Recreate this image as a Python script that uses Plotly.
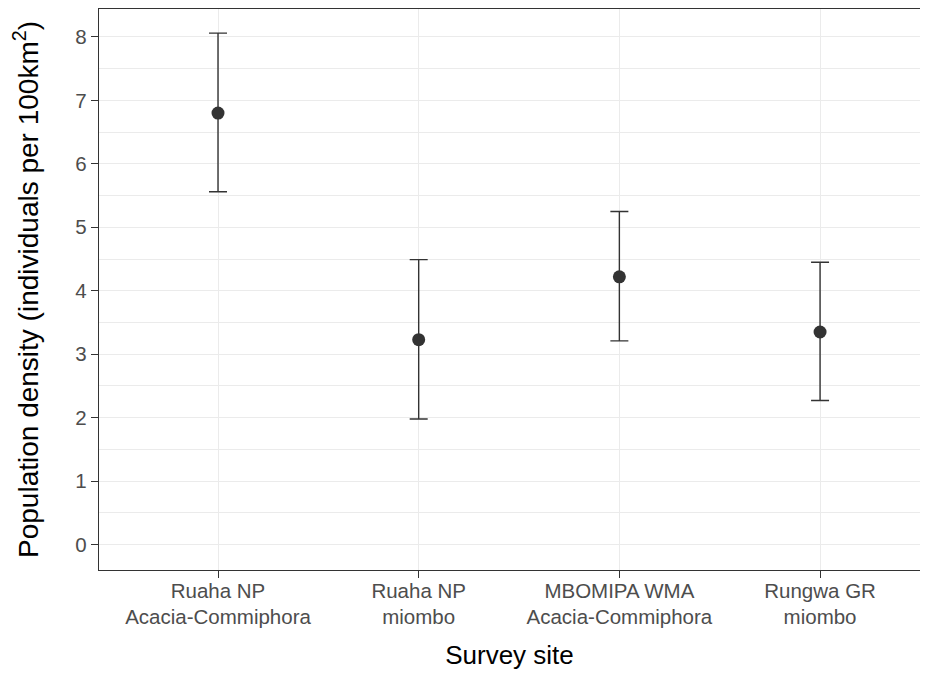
import plotly.graph_objects as go

sites = ["Ruaha NP<br>Acacia-Commiphora", "Ruaha NP<br>miombo",
         "MBOMIPA WMA<br>Acacia-Commiphora", "Rungwa GR<br>miombo"]
density = [6.80, 3.23, 4.22, 3.35]
upper = [8.06, 4.49, 5.25, 4.45]
lower = [5.56, 1.98, 3.21, 2.27]
y_ticks = [0, 1, 2, 3, 4, 5, 6, 7, 8]

err_plus = [u - d for u, d in zip(upper, density)]
err_minus = [d - l for d, l in zip(density, lower)]

fig = go.Figure(go.Scatter(
    x=sites, y=density, mode="markers",
    marker=dict(size=13, color="#333333"),
    error_y=dict(type="data", symmetric=False, array=err_plus, arrayminus=err_minus,
                 color="#333333", thickness=1.4, width=9),
    showlegend=False,
))

fig.update_layout(
    width=912, height=662,
    margin=dict(l=91, r=0, t=1, b=100, autoexpand=False),
    paper_bgcolor="white", plot_bgcolor="white",
    font=dict(family="Liberation Sans, Arial, sans-serif", color="#4D4D4D"),
)
fig.update_xaxes(
    type="category", range=[-0.593, 3.498], automargin=False,
    showline=True, linecolor="#333333", linewidth=1.3, mirror=True,
    ticks="outside", ticklen=7, tickwidth=1.3, tickcolor="#333333",
    ticklabelstandoff=-5,
    showgrid=True, gridcolor="#EBEBEB", gridwidth=1.1,
    tickfont=dict(size=20.5, color="#4D4D4D"),
    title=dict(text="Survey site", font=dict(size=26, color="black"), standoff=30),
)
fig.update_yaxes(
    range=[-0.4, 8.44], tickvals=y_ticks, automargin=False,
    showline=True, linecolor="#333333", linewidth=1.3,
    ticks="outside", ticklen=7, tickwidth=1.3, tickcolor="#333333",
    showgrid=True, gridcolor="#EBEBEB", gridwidth=1.1, zeroline=False,
    minor=dict(dtick=0.5, tick0=0, showgrid=True, gridcolor="#EBEBEB", gridwidth=0.6),
    tickfont=dict(size=20.5, color="#4D4D4D"),
    title=dict(text="Population density (individuals per 100km<sup>2</sup>)",
               font=dict(size=28, color="black"), standoff=29),
)

fig.write_html("out.html")
